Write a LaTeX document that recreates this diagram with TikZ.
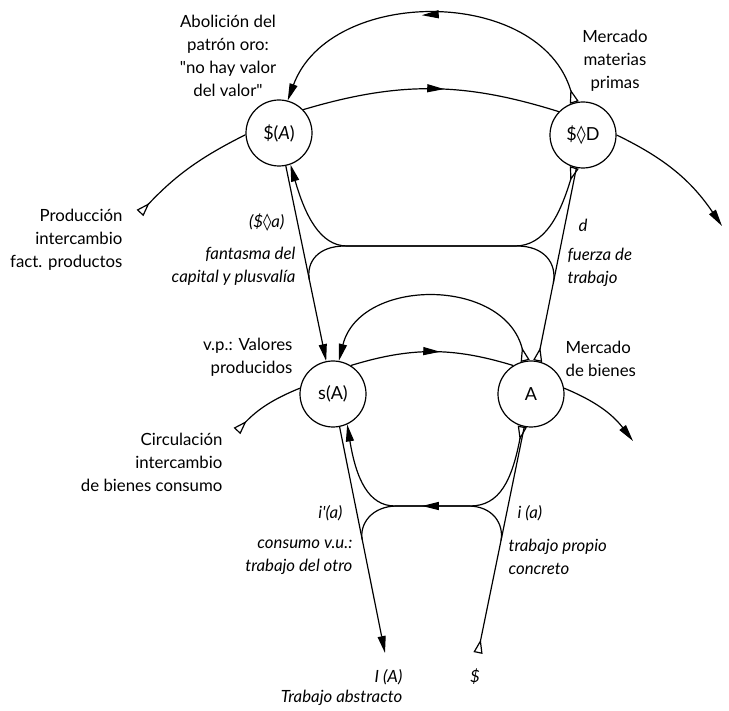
\documentclass[tikz,border=0pt]{standalone}
\usepackage{fontspec}
\setmainfont{Lato}
\newfontfamily\symfont{DejaVu Sans}
\usetikzlibrary{positioning,arrows.meta,decorations.markings,calc}
\tikzset {
    head/.tip={Triangle[length=8.5pt,width=4pt]},
    foot/.tip={Triangle[open,reversed,length=7pt,width=4.5pt]},
    style node/.style={
        draw=black,
        line width=0.6pt,
        circle, % Set the shape as a circle
        minimum size=33pt,
        inner sep=0pt,
        font=\fontsize{9}{11}\selectfont,
    },
    style text/.style={
        inner sep=0pt,
        font=\fontsize{8.4}{11.5}\selectfont,
    },
    style italic/.style={
        inner sep=0pt,
        font=\fontsize{8.4}{11.5}\selectfont\itshape,
    },
    style mid/.style={
        postaction={decorate},
        decoration={markings, mark=at position #1 with {\arrow{head}}},
    },
}

\begin{document}
\begin{tikzpicture}[x=0.5pt, y=0.5pt, line width=0.6pt]
        \useasboundingbox (0,0) rectangle (729,-711);

        \node[style node] at (279,-133) (dollarA) {\$(\textit{A})};
        \node[style node] at (583,-135) (dollarD) {\${\symfont ◊}D};
        \node[style node] at (333,-394) (sigA) {s(A)};
        \node[style node] at (531,-394) (bigA) {A};

        \coordinate (prodEnd) at (140,-213);
        \coordinate (prodArrow) at (722,-226);
        \coordinate (circEnd) at (237,-431);
        \coordinate (circArrow) at (633,-441);
        \coordinate (trabEnd) at (385,-653);
        \coordinate (dollarEnd) at (478,-653);
        \coordinate (mergeL) at ($(dollarA)!0.563!(sigA)$);
        \coordinate (mergeR) at ($(bigA)!0.43!(dollarD)$);
        \coordinate (mergeBL) at ($(sigA)!0.564!(trabEnd)$);
        \coordinate (mergeBR) at ($(dollarEnd)!0.434!(bigA)$);

        \node[style text, align=center] at (228,-56) (abolicion) {Abolición del\\patrón oro:\\\textquotedbl no hay valor\\del valor\textquotedbl};
        \node[style text, align=center] at (615,-61) (materias) {Mercado\\materias\\primas};
        \node[style text, align=right, anchor=east] at (123,-240) (produccion) {Producción\\intercambio\\fact. productos};
        \node[style italic, anchor=east] at (285,-223) (dollarLabel) {(\${\symfont ◊}a)};
        \node[style italic, align=right, anchor=east] at (296,-266) (fantasma) {fantasma del\\capital y plusvalía};
        \node[style italic, anchor=west] at (578,-225) (dLabel) {d};
        \node[style italic, align=left, anchor=west] at (567,-267) (fuerza) {fuerza de\\trabajo};
        \node[style text, align=right, anchor=east] at (293,-357) (valores) {v.p.: Valores\\producidos};
        \node[style text, align=left, anchor=west] at (565,-359) (bienes) {Mercado\\de bienes};
        \node[style text, align=right, anchor=east] at (223,-462) (circulacion) {Circulación\\intercambio\\de bienes consumo};
        \node[style italic, anchor=east] at (343,-513) (iPrime) {i\textquotesingle(a)};
        \node[style italic, align=right, anchor=east] at (353,-557) (consumo) {consumo v.u.:\\trabajo del otro};
        \node[style italic, anchor=west] at (517,-513) (iLabel) {i (a)};
        \node[style italic, align=left, anchor=west] at (508,-557) (propio) {trabajo propio\\concreto};
        \node[style italic, anchor=east] at (403,-677) (iA) {I (A)};
        \node[style italic, anchor=east] at (403,-698) (abstracto) {Trabajo abstracto};
        \node[style italic] at (475,-677) (dollarSign) {\$};

        % upper level
        \draw[foot-] (prodEnd) to[bend left=10] (dollarA.183);
        \draw[style mid=0.55] (dollarA.44) to[bend left=17] (dollarD.136);
        \draw[-head] (dollarD.0) to[bend left=15] (prodArrow);
        \draw[foot-head, style mid=0.53] (dollarD.105) .. controls (540,14) and (330,14) .. (dollarA.75);

        % lower level
        \draw[foot-] (circEnd) to[bend left=12] (sigA.170);
        \draw[style mid=0.55] (sigA.58) to[bend left=17] (bigA.122);
        \draw[-head] (bigA.10) to[bend left=15] (circArrow);
        \draw[foot-head] (bigA.100) .. controls (505,-277) and (360,-277) .. (sigA.80);

        % vectors
        \draw[-head] (dollarA) -- (sigA);
        \draw[-head] (sigA) -- (trabEnd);
        \draw[foot-] (dollarEnd) -- (bigA);
        \draw[foot-] (bigA) -- (dollarD);

        % crossings
        \draw[foot-head] (dollarD.-105) .. controls (560,-215) and (545,-246) .. (515,-246) -- (347,-246) .. controls (320,-246) and (305,-215) .. (dollarA.-70);
        \draw (mergeL) .. controls (306,-262) and (318,-246) .. (345,-246) -- (517,-246) .. controls (544,-246) and (557,-263) .. (mergeR);
        \draw[foot-head, style mid=0.54] (bigA.-105) .. controls (512,-480) and (500,-506) .. (470,-506) -- (395,-506) .. controls (368,-506) and (356,-478) .. (sigA.-65);
        \draw (mergeBL) .. controls (359,-524) and (372,-506) .. (397,-506) -- (468,-506) .. controls (493,-506) and (504,-524) .. (mergeBR);
\end{tikzpicture}
\end{document}
